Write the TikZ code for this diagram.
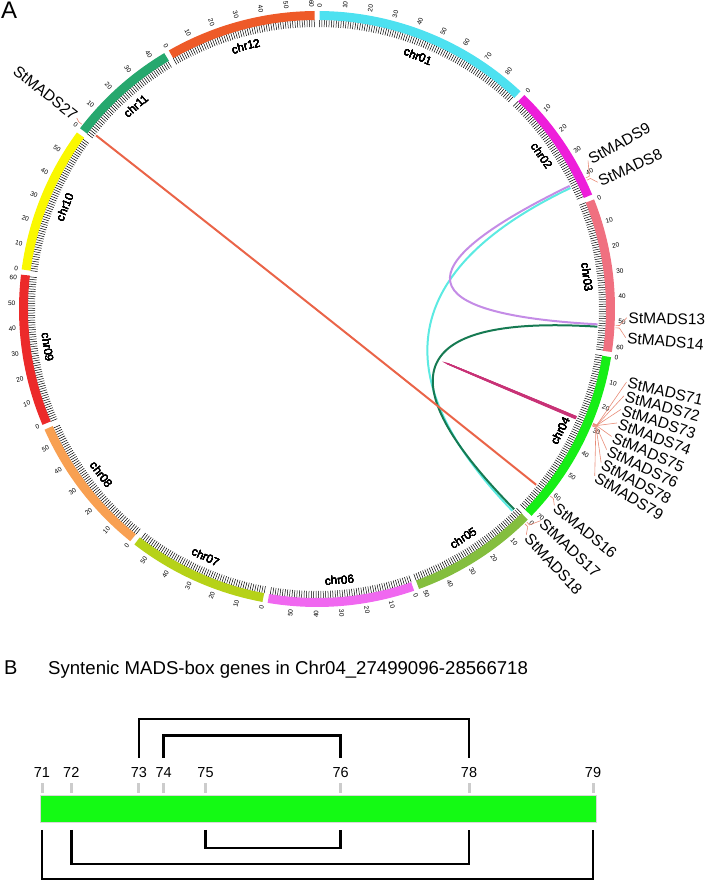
\documentclass[tikz,border=0pt]{standalone}
\usepackage{fontspec}
\setmainfont{Liberation Sans}
\usetikzlibrary{calc}

\definecolor{chr01}{RGB}{77,225,240}
\definecolor{chr02}{RGB}{238,30,218}
\definecolor{chr03}{RGB}{240,112,128}
\definecolor{chr04}{RGB}{22,238,22}
\definecolor{chr05}{RGB}{132,190,62}
\definecolor{chr06}{RGB}{240,104,240}
\definecolor{chr07}{RGB}{182,210,24}
\definecolor{chr08}{RGB}{248,160,82}
\definecolor{chr09}{RGB}{236,42,42}
\definecolor{chr10}{RGB}{250,248,0}
\definecolor{chr11}{RGB}{38,168,110}
\definecolor{chr12}{RGB}{238,90,40}
\definecolor{linkorange}{RGB}{234,100,72}
\definecolor{linkcyan}{RGB}{92,234,226}
\definecolor{linkpurple}{RGB}{196,140,230}
\definecolor{linkgreen}{RGB}{22,122,82}
\definecolor{linkred}{RGB}{200,50,118}
\definecolor{tie}{RGB}{232,140,120}
\definecolor{barfill}{RGB}{20,250,20}

\def\MbDeg{0.48}
\def\Rband{293.5}

% radial text, read from the inside out on both halves
\newcommand{\radlabel}[5]{%
  \pgfmathsetmacro\labang{#2}%
  \pgfmathtruncatemacro\labright{cos(\labang)>=0 ? 1 : 0}%
  \ifnum\labright=1
    \node[#4, anchor=west, rotate=\labang] (#1) at (\labang:#3) {#5};
  \else
    \pgfmathsetmacro\labrot{\labang+180}%
    \node[#4, anchor=east, rotate=\labrot] (#1) at (\labang:#3) {#5};
  \fi}
% bezier link through the centre
\newcommand{\chrlink}[3]{%
  \draw[#1] (#2) .. controls ($(O)!1/3!(#2)$) and ($(O)!1/3!(#3)$) .. (#3);}

\begin{document}
\begin{tikzpicture}[x=1pt,y=1pt,
  chrband/.style={line width=9pt},
  tickmark/.style={line width=0.5pt,black},
  ticknum/.style={font=\fontsize{6.5}{7}\selectfont,inner sep=0.5pt},
  chrname/.style={font=\fontsize{11.5}{12}\selectfont,inner sep=0pt},
  genename/.style={font=\fontsize{15.5}{16}\selectfont,inner sep=0.5pt},
  genetie/.style={tie,line width=0.6pt},
  link/.style={line width=2pt},
  tandem/.style={linkred,line width=1pt},
  geneflag/.style={gray!40,line width=3pt},
  genenum/.style={font=\fontsize{14.5}{15}\selectfont,inner sep=0pt},
  pairline/.style={black,line width=2.6pt,line join=miter}]
\useasboundingbox (0,0) rectangle (709,883);

\node[font=\fontsize{24}{24}\selectfont,anchor=north west,inner sep=0] (panelA) at (1,881) {A};

\begin{scope}[shift={(317,574)}]
\coordinate (O) at (0,0);
% ideogram
\foreach \cname/\cs/\clen in {01/89.5/88.7, 02/45.92/48.6, 03/21.59/62.3,
    04/-9.31/72.2, 05/-44.97/52.1, 06/-70.98/59.5, 07/-100.54/56.8,
    08/-128.80/56.9, 09/-157.11/61.5, 10/-187.63/59.8, 11/-217.33/45.5,
    12/-240.17/61.2} {
  \pgfmathsetmacro\cend{\cs-\clen*\MbDeg}
  \pgfmathsetmacro\cmid{(\cs+\cend)/2}
  \draw[chrband,chr\cname] ({\cs}:\Rband) arc[start angle=\cs,end angle=\cend,radius=\Rband];
  \pgfmathtruncatemacro\cn{\clen}
  \foreach \m in {0,...,\cn}
    \draw[tickmark] ({\cs-\m*\MbDeg}:289) -- ({\cs-\m*\MbDeg}:282);
  \foreach \m in {0,10,...,\cn}
    \radlabel{t\cname-\m}{\cs-\m*\MbDeg}{301}{ticknum}{\m}
  \pgfmathsetmacro\crot{sin(\cmid)>=0 ? \cmid-90 : \cmid+90}
  \node[chrname,rotate=\crot] (c\cname) at (\cmid:272) {chr\cname};
}

% genes
\foreach \g/\ga/\la/\lr in {27/-218.15/-218.5/308, 9/25.99/28.7/310, 8/25.52/24.3/309,
    13/-3.13/-1.6/311, 14/-3.61/-5.3/311,
    71/-22.51/-13.3/319, 72/-22.54/-15.8/320, 73/-22.60/-18.3/321, 74/-22.63/-20.8/322,
    75/-22.66/-23.4/322, 76/-22.79/-25.9/323, 78/-22.91/-28.4/324, 79/-23.02/-31.0/325,
    16/-38.73/-39.6/309, 17/-45.45/-43.4/309, 18/-45.93/-47.2/309} {
  \coordinate (g\g) at ({\ga}:281);
  \coordinate (gt\g) at ({\ga}:299);
  \coordinate (gm\g) at ({\ga}:303);
  \coordinate (ge\g) at ({\la}:{\lr-1});
  \draw[genetie] (gt\g) -- (gm\g) -- (ge\g);
  \radlabel{n\g}{\la}{\lr}{genename}{StMADS\g}
}

% links
\chrlink{link,linkcyan}{g8}{g18}
\chrlink{link,linkgreen}{g14}{g17}
\chrlink{link,linkpurple}{g9}{g13}
\chrlink{link,linkorange}{g27}{g16}
\chrlink{tandem}{g73}{g78}
\chrlink{tandem}{g74}{g76}
\chrlink{tandem}{g75}{g76}
\chrlink{tandem}{g72}{g78}
\chrlink{tandem}{g71}{g79}
\end{scope}

% panel B
\node[font=\fontsize{20}{20}\selectfont,anchor=base west,inner sep=0] (panelB) at (4,208) {B};
\node[font=\fontsize{18.6}{19}\selectfont,anchor=base west,inner sep=0] (title) at (48,208)
  {Syntenic MADS-box genes in Chr04\_27499096-28566718};

\node[fill=barfill,draw=gray!30,line width=0.8pt,minimum width=556,minimum height=27,
  anchor=south west,inner sep=0] (bar) at (40,60) {};

\foreach \k/\x in {71/42, 72/71.3, 73/138.9, 74/163.6, 75/205.5, 76/340.7, 78/469, 79/593} {
  \coordinate (k\k) at (\x,0);
  \draw[geneflag] (\x,90) -- (\x,100);
  \node[genenum] (l\k) at (\x,110.3) {\k};
}

\coordinate (upfoot) at (0,125);
\coordinate (upA) at (0,164);
\coordinate (upB) at (0,147.3);
\coordinate (lowfoot) at (0,53);
\coordinate (lowA) at (0,35);
\coordinate (lowB) at (0,19);
\coordinate (lowC) at (0,4);

\draw[pairline] (k73 |- upfoot) |- (k78 |- upA) -- (k78 |- upfoot);
\draw[pairline] (k74 |- upfoot) |- (k76 |- upB) -- (k76 |- upfoot);
\draw[pairline] (k75 |- lowfoot) |- (k76 |- lowA) -- (k76 |- lowfoot);
\draw[pairline] (k72 |- lowfoot) |- (k78 |- lowB) -- (k78 |- lowfoot);
\draw[pairline] (k71 |- lowfoot) |- (k79 |- lowC) -- (k79 |- lowfoot);
\end{tikzpicture}
\end{document}
